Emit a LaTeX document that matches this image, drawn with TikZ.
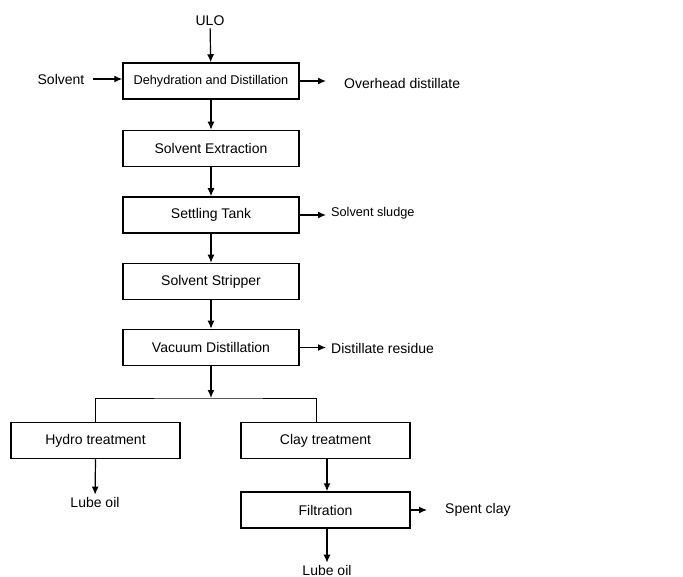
\documentclass[tikz,border=0pt]{standalone}
\usepackage{fontspec}
\setmainfont{Liberation Sans}
\usepackage{tikz}
\usetikzlibrary{positioning,arrows.meta,calc}
\tikzset{
    x=1pt,
    y=-1pt,
    process/.style = {
        draw,
        shape=rectangle,
        minimum height=36pt,
        minimum width=176pt,
        inner sep=0pt,
        line width=1.5pt,
        font=\fontsize{14}{16}\selectfont
    },
    branch/.style = {
        process,
        minimum width=169pt
    },
    stream/.style = {
        inner sep=2pt,
        font=\fontsize{14}{16}\selectfont
    },
    flow/.style = {
        draw,
        ->,
        line width=1.2pt
    },
    >={Latex[length=8pt,width=7pt]},
}
\begin{document}
\begin{tikzpicture}
            \useasboundingbox (0,0) rectangle (683,577);

            \node[process, font=\fontsize{12.7}{15}\selectfont] (dehyd) at (211,81) {Dehydration and Distillation};
            \node[process] (extract) at (211,148.5) {Solvent Extraction};
            \node[process] (settle) at (211,215) {Settling Tank};
            \node[process] (strip) at (211,281.5) {Solvent Stripper};
            \node[process] (vacuum) at (211,347.5) {Vacuum Distillation};
            \node[branch] (hydro) at (95.5,440.5) {Hydro treatment};
            \node[branch] (clay) at (325.5,440.5) {Clay treatment};
            \node[branch] (filter) at (325.5,510) {Filtration};

            \node[stream] (ulo) at (210,21) {ULO};
            \node[stream] (solvent) at (61,79) {Solvent};
            \node[stream, anchor=west] (overhead) at (342,83) {Overhead distillate};
            \node[stream, anchor=west, font=\fontsize{12.7}{15}\selectfont] (sludge) at (329,213) {Solvent sludge};
            \node[stream, anchor=west] (residue) at (329,348) {Distillate residue};
            \node[stream] (lube1) at (95,502) {Lube oil};
            \node[stream, anchor=west] (spent) at (443,510) {Spent clay};
            \node[stream] (lube2) at (327,570) {Lube oil};
            \coordinate (split) at (211,398);

            \path[flow] (ulo) -- (dehyd);
            \path[flow, shorten <=6pt] (solvent.east) -- (solvent.east -| dehyd.west);
            \path[flow, shorten >=16pt] (dehyd.east) -- (dehyd.east -| overhead.west);
            \path[flow] (dehyd) -- (extract);
            \path[flow] (extract) -- (settle);
            \path[flow, shorten >=3pt] (settle.east) -- (settle.east -| sludge.west);
            \path[flow] (settle) -- (strip);
            \path[flow] (strip) -- (vacuum);
            \path[flow, shorten >=3pt] (vacuum.east) -- (vacuum.east -| residue.west);
            \path[flow] (vacuum) -- (split);
            \draw[line width=0.8pt] (hydro.north) |- (split) -| ([xshift=-9pt]clay.north);
            \path[flow] (hydro.south) -- (lube1);
            \path[flow] ([xshift=1.5pt]clay.south) -- ([xshift=1.5pt]filter.north);
            \path[flow, shorten >=16pt] (filter.east) -- (filter.east -| spent.west);
            \path[flow] ([xshift=1.5pt]filter.south) -- (lube2);
        \end{tikzpicture}
\end{document}
